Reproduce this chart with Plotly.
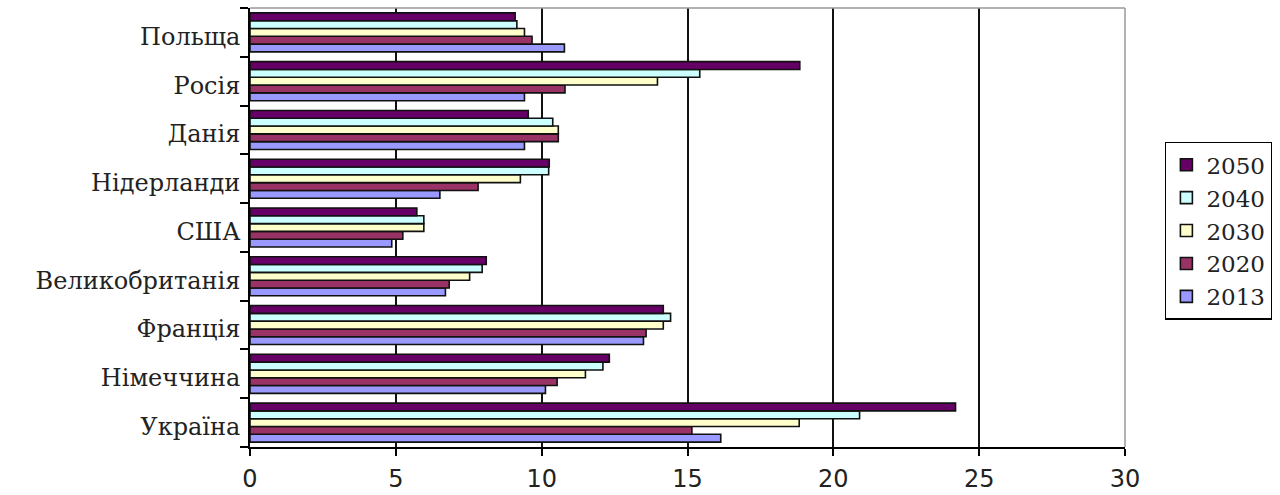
import plotly.graph_objects as go

# categories listed bottom-to-top (Plotly category axis order)
countries = ["Україна", "Німеччина", "Франція", "Великобританія", "США",
             "Нідерланди", "Данія", "Росія", "Польща"]

years = ["2013", "2020", "2030", "2040", "2050"]

v2013 = [16.14, 10.13, 13.49, 6.70, 4.86, 6.51, 9.41, 9.41, 10.78]
v2020 = [15.15, 10.53, 13.58, 6.83, 5.24, 7.82, 10.57, 10.80, 9.67]
v2030 = [18.83, 11.50, 14.17, 7.53, 5.96, 9.27, 10.57, 13.97, 9.41]
v2040 = [20.90, 12.10, 14.42, 7.96, 5.96, 10.24, 10.38, 15.42, 9.15]
v2050 = [24.19, 12.32, 14.17, 8.10, 5.72, 10.26, 9.54, 18.85, 9.09]

series = [v2013, v2020, v2030, v2040, v2050]
colors = ["#9999FF", "#993366", "#FFFFCC", "#CCFFFF", "#660066"]

x_ticks = [0, 5, 10, 15, 20, 25, 30]

fig = go.Figure()
for name, vals, col in zip(years, series, colors):
    fig.add_trace(go.Bar(
        y=countries, x=vals, name=name, orientation="h",
        marker=dict(color=col, line=dict(color="#111111", width=1.6)),
    ))

fig.update_layout(
    width=1280, height=495,
    margin=dict(l=250, r=155, t=8, b=48, autoexpand=False),
    barmode="group", bargap=0.2, bargroupgap=0,
    plot_bgcolor="white", paper_bgcolor="white",
    font=dict(family="DejaVu Serif", color="black"),
    legend=dict(
        traceorder="reversed",
        x=1.0457, xanchor="left", y=0.695, yanchor="top",
        bordercolor="black", borderwidth=1.4,
        font=dict(family="DejaVu Serif", size=23, color="#222222"),
        itemwidth=30, tracegroupgap=0,
    ),
    showlegend=True,
)

fig.update_xaxes(
    range=[0, 30], tickvals=x_ticks, ticktext=[str(t) for t in x_ticks],
    showgrid=True, gridcolor="#111111", gridwidth=1.7,
    showline=True, linecolor="black", linewidth=1.5, mirror=False,
    ticks="outside", ticklen=7, tickcolor="black", tickwidth=1.5,
    ticklabelstandoff=2, automargin=False,
    tickfont=dict(family="DejaVu Sans", size=24, color="#222222"),
    zeroline=False,
)
fig.update_yaxes(
    type="category", automargin=False,
    showline=True, linecolor="black", linewidth=1.7,
    ticks="outside", tickson="boundaries", ticklen=8, tickcolor="black",
    tickwidth=1.5, ticklabelstandoff=3, ticklabelshift=4,
    tickfont=dict(family="DejaVu Serif", size=24, color="#222222"),
    showgrid=False,
)

# gray plot-area frame on top and right
fig.add_shape(type="line", xref="paper", yref="paper", x0=0, x1=1, y0=1, y1=1,
              line=dict(color="#999999", width=1.5))
fig.add_shape(type="line", xref="paper", yref="paper", x0=1, x1=1, y0=0, y1=1,
              line=dict(color="#999999", width=1.5))

fig.write_html("out.html")
